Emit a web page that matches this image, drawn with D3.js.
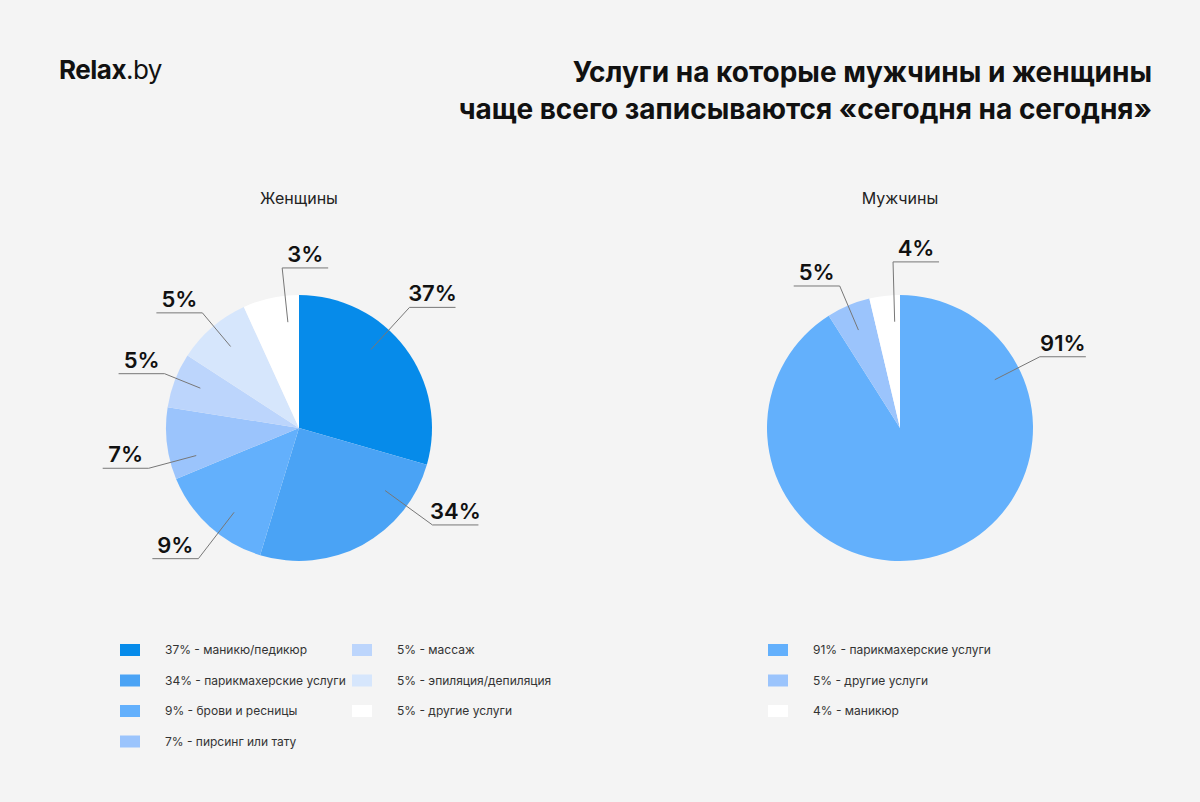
<!DOCTYPE html>
<html><head><meta charset="utf-8">
<script src="https://cdn.jsdelivr.net/npm/d3@7"></script>
<style>body{margin:0;background:#f4f4f4;font-family:Inter,"Noto Sans",sans-serif}</style>
</head><body><svg id="c" width="1200" height="802"></svg>
<script>
const womenLabels = ["37%", "34%", "9%", "7%", "5%", "5%", "3%"];
// slice sizes as drawn in the picture (degrees), they differ from labels
const womenDrawn = [106, 91, 50.5, 31.5, 24, 32.5, 24.5];
const womenColors = ["#068bea", "#4aa3f5", "#63b0fc", "#9bc4fc", "#bcd5fc", "#d6e6fc", "#ffffff"];
const womenLegend = ["37% - маникю/педикюр", "34% - парикмахерские услуги", "9% - брови и ресницы",
  "7% - пирсинг или тату", "5% - массаж", "5% - эпиляция/депиляция", "5% - другие услуги"];

const menLabels = ["91%", "5%", "4%"];
const menDrawn = [91, 5.3, 3.7];
const menColors = ["#63b0fc", "#9bc4fc", "#ffffff"];
const menLegend = ["91% - парикмахерские услуги", "5% - другие услуги", "4% - маникюр"];

// label elbow placement: [angle deg from top, radius factor, direction]
const womenCallouts = [[42.5, 1.23, 1], [126, 1.24, 1], [217.6, 1.24, -1], [255, 1.17, -1],
  [292, 1.09, -1], [320, 1.13, -1], [354, 1.21, 1]];
const menCallouts = [[63, 1.18, 1], [337, 1.16, -1], [357.6, 1.25, 1]];

const svg = d3.select("#c");
svg.append("rect").attr("width", 1200).attr("height", 802).attr("fill", "#f4f4f4");

const logo = svg.append("text").attr("x", 59).attr("y", 79).attr("font-size", 26).attr("fill", "#111")
  .attr("letter-spacing", -0.5);
logo.append("tspan").attr("font-weight", 700).text("Relax");
logo.append("tspan").attr("font-weight", 400).text(".by");

["Услуги на которые мужчины и женщины", "чаще всего записываются «сегодня на сегодня»"].forEach((t, i) => {
  svg.append("text").attr("x", 1152).attr("y", 82 + i * 37).attr("text-anchor", "end")
    .attr("font-size", 28).attr("font-weight", 700).attr("fill", "#111").text(t);
});

function pie(cx, cy, title, drawn, labels, colors, callouts) {
  const R = 133;
  svg.append("text").attr("x", cx).attr("y", 204).attr("text-anchor", "middle")
    .attr("font-size", 16).attr("fill", "#222").text(title);
  const g = svg.append("g").attr("transform", `translate(${cx},${cy})`);
  const arcs = d3.pie().sort(null).value(d => d)(drawn);
  const arc = d3.arc().innerRadius(0).outerRadius(R);
  g.selectAll("path").data(arcs).join("path").attr("d", arc).attr("fill", (d, i) => colors[i]);
  arcs.forEach((a, i) => {
    const [deg, rf, dir] = callouts[i];
    const e = deg * Math.PI / 180;
    const m = Math.min(Math.max(e, a.startAngle + 0.05), a.endAngle - 0.05);
    const p0 = [0.8 * R * Math.sin(m), -0.8 * R * Math.cos(m)];
    const p1 = [rf * R * Math.sin(e), -rf * R * Math.cos(e)];
    const p2 = [p1[0] + dir * 46, p1[1]];
    g.append("polyline").attr("points", [p0, p1, p2].map(p => p.join(",")).join(" "))
      .attr("fill", "none").attr("stroke", "#777").attr("stroke-width", 1);
    g.append("text").attr("x", (p1[0] + p2[0]) / 2).attr("y", p1[1] - 6).attr("text-anchor", "middle")
      .attr("font-size", 22).attr("font-weight", 600).attr("fill", "#111").text(labels[i]);
  });
}
pie(299, 428, "Женщины", womenDrawn, womenLabels, womenColors, womenCallouts);
pie(900, 428, "Мужчины", menDrawn, menLabels, menColors, menCallouts);

function legend(items, colors, x, y) {
  items.forEach((t, i) => {
    const col = Math.floor(i / 4), row = i % 4;
    const lx = x + col * 232, ly = y + row * 30.5;
    svg.append("rect").attr("x", lx).attr("y", ly - 6).attr("width", 20).attr("height", 12).attr("fill", colors[i]);
    svg.append("text").attr("x", lx + 45).attr("y", ly + 4).attr("font-size", 12).attr("fill", "#333").text(t);
  });
}
legend(womenLegend, womenColors, 120, 650);
legend(menLegend, menColors, 768, 650);
</script></body></html>
